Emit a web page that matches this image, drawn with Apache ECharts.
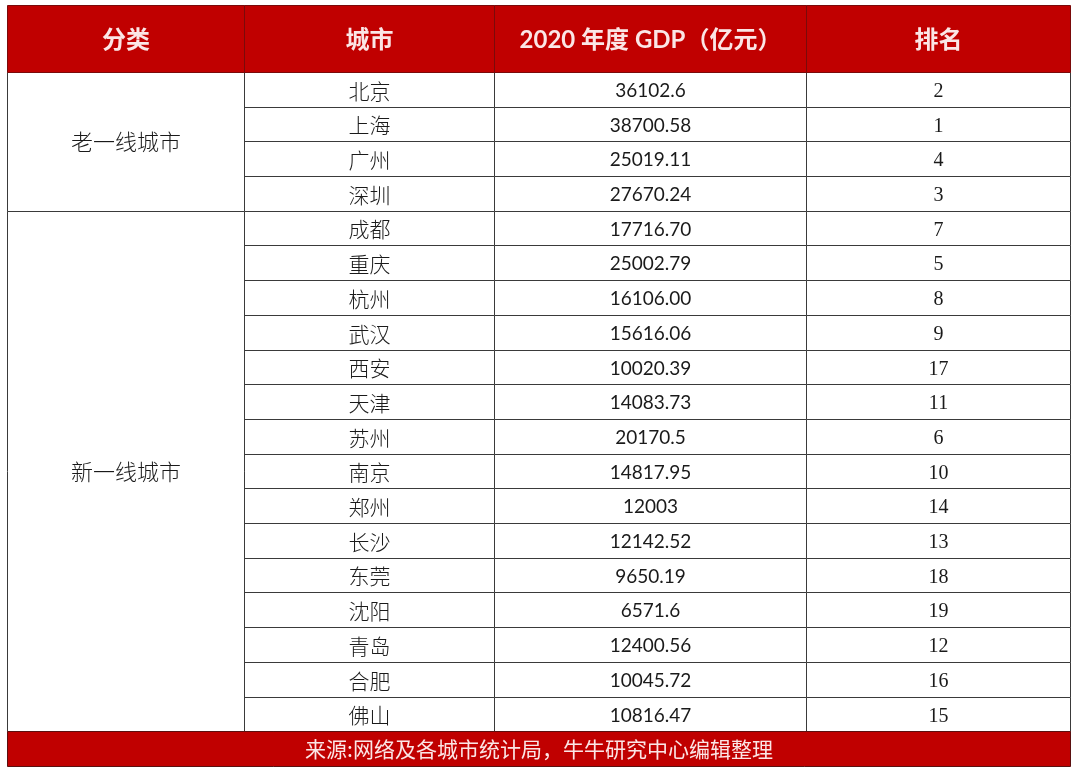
<!DOCTYPE html>
<html><head><meta charset="utf-8">
<script src="https://cdn.jsdelivr.net/npm/echarts@6/dist/echarts.min.js"></script>
<style>html,body{margin:0;padding:0;background:#fff}#c{width:1080px;height:776px}</style>
</head><body><div id="c"></div>
<script>
// ---- data ----
const headers = ['分类', '城市', '2020 年度 GDP（亿元）', '排名'];
const groups = ['老一线城市', '新一线城市'];
const groupSizes = [4, 15];
const cities = ['北京','上海','广州','深圳','成都','重庆','杭州','武汉','西安','天津','苏州','南京','郑州','长沙','东莞','沈阳','青岛','合肥','佛山'];
const gdp = ['36102.6','38700.58','25019.11','27670.24','17716.70','25002.79','16106.00','15616.06','10020.39','14083.73','20170.5','14817.95','12003','12142.52','9650.19','6571.6','12400.56','10045.72','10816.47'];
const ranks = [2,1,4,3,7,5,8,9,17,11,6,10,14,13,18,19,12,16,15];
const sourceNote = '来源:网络及各城市统计局，牛牛研究中心编辑整理';

// ---- layout (not data) ----
const COL = [0, 237, 487, 799, 1063];
const HEAD_H = 1.93;
const RED = '#C00000';
const LINE = '#3a3a3a';
const CJK = '"Noto Sans CJK SC"';

function px(v){ return Math.round(v) + 0.5; }

function cellRect(api, c0, c1, r0, r1){
  const p0 = api.coord([COL[c0], r0]);
  const p1 = api.coord([COL[c1], r1]);
  const x = px(p0[0]), y = px(p0[1]);
  return {x: x, y: y, width: px(p1[0]) - x, height: px(p1[1]) - y};
}

// build cell records
const headerData = headers.map((h, i) => [i, h]);
const groupData = [];
let start = 0;
groups.forEach((g, i) => { groupData.push([start, groupSizes[i], g]); start += groupSizes[i]; });
const bodyData = [];
cities.forEach((c, i) => {
  bodyData.push([1, i, c, 'cjk']);
  bodyData.push([2, i, gdp[i], 'num']);
  bodyData.push([3, i, String(ranks[i]), 'serif']);
});

const fonts = {
  cjk: 'normal 300 21px ' + CJK,
  num: 'normal 400 19px Lato, ' + CJK,
  serif: 'normal 400 20px "Liberation Serif", serif'
};
const dy = {cjk: 1, num: 1, serif: 2};

const chart = echarts.init(document.getElementById('c'), null, {renderer: 'canvas'});
chart.setOption({
  animation: false,
  backgroundColor: '#fff',
  grid: {left: 7, right: 10, top: 5, bottom: 10},
  xAxis: {type: 'value', min: 0, max: COL[4], show: false},
  yAxis: {type: 'value', min: -HEAD_H, max: cities.length + 1, inverse: true, show: false},
  series: [
    {
      type: 'custom', data: bodyData,
      renderItem: function(params, api){
        const d = bodyData[params.dataIndex];
        const r = cellRect(api, d[0], d[0] + 1, d[1], d[1] + 1);
        return {type: 'group', children: [
          {type: 'rect', shape: r, style: {fill: '#fff', stroke: LINE, lineWidth: 1}},
          {type: 'text', style: {text: d[2], x: r.x + r.width / 2, y: r.y + r.height / 2 + dy[d[3]],
            align: 'center', verticalAlign: 'middle', font: fonts[d[3]], fill: '#1a1a1a'}}
        ]};
      }
    },
    {
      type: 'custom', data: groupData,
      renderItem: function(params, api){
        const d = groupData[params.dataIndex];
        const r = cellRect(api, 0, 1, d[0], d[0] + d[1]);
        return {type: 'group', children: [
          {type: 'rect', shape: r, style: {fill: '#fff', stroke: LINE, lineWidth: 1}},
          {type: 'text', style: {text: d[2], x: r.x + r.width / 2, y: r.y + r.height / 2,
            align: 'center', verticalAlign: 'middle', font: 'normal 300 22px ' + CJK, fill: '#1a1a1a'}}
        ]};
      }
    },
    {
      type: 'custom', data: headerData,
      renderItem: function(params, api){
        const d = headerData[params.dataIndex];
        const r = cellRect(api, d[0], d[0] + 1, -HEAD_H, 0);
        return {type: 'group', children: [
          {type: 'rect', shape: r, style: {fill: RED, stroke: '#7a0a0a', lineWidth: 1}},
          {type: 'text', style: {text: d[1], x: r.x + r.width / 2, y: r.y + r.height / 2 + 1,
            align: 'center', verticalAlign: 'middle', font: 'bold 24px Lato, ' + CJK, fill: '#fbe6e6'}}
        ]};
      }
    },
    {
      type: 'custom', data: [[sourceNote]],
      renderItem: function(params, api){
        const r = cellRect(api, 0, 4, cities.length, cities.length + 1);
        return {type: 'group', children: [
          {type: 'rect', shape: r, style: {fill: RED, stroke: '#5a1010', lineWidth: 1}},
          {type: 'text', style: {text: sourceNote, x: r.x + r.width / 2, y: r.y + r.height / 2,
            align: 'center', verticalAlign: 'middle', font: 'normal 400 21px ' + CJK, fill: '#fbe6e6'}}
        ]};
      }
    }
  ]
});
</script></body></html>
